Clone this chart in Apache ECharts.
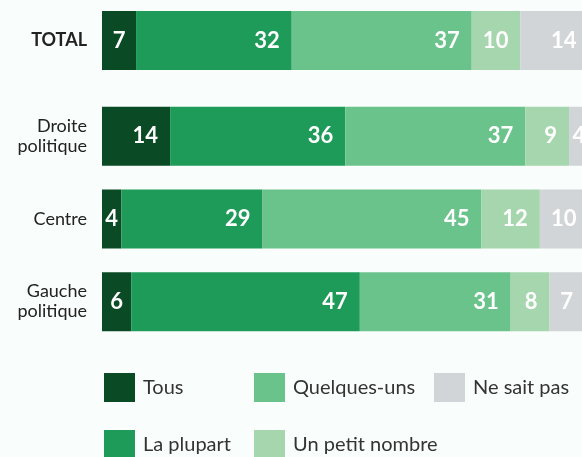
<!DOCTYPE html>
<html>
<head>
<meta charset="utf-8">
<script src="https://cdn.jsdelivr.net/npm/echarts@6/dist/echarts.min.js"></script>
<style>
  html, body { margin: 0; padding: 0; background: #f9fdfc; }
  #main { width: 582px; height: 457px; }
</style>
</head>
<body>
<div id="main"></div>
<script>
// données
const seriesNames = ['Tous', 'La plupart', 'Quelques-uns', 'Un petit nombre', 'Ne sait pas'];
const colors = ['#0a4a25', '#1e9b58', '#6bc38c', '#a6d6ad', '#d2d5d8'];

const totalLabel = ['TOTAL'];
const totalValues = [7, 32, 37, 10, 14];

const groups = ['Droite\npolitique', 'Centre', 'Gauche\npolitique'];
const tous = [14, 4, 6];
const laPlupart = [36, 29, 47];
const quelquesUns = [37, 45, 31];
const petitNombre = [9, 12, 8];
const neSaitPas = [4, 10, 7];

const groupValues = [tous, laPlupart, quelquesUns, petitNombre, neSaitPas];

// légende en colonnes (ordre colonne par colonne)
const legendSpots = [[104, 373], [104, 430], [254, 373], [254, 430], [434, 373]];

const chart = echarts.init(document.getElementById('main'));

// barres étroites : étiquette centrée
function toItems(values) {
    return values.map(v => v <= 7 ? { value: v, label: { position: 'inside' } } : v);
}

const barLabel = {
    show: true,
    position: 'insideRight',
    distance: 12,
    color: '#fff',
    fontFamily: 'Lato',
    fontWeight: 'bold',
    fontSize: 22
};

const series = [];
seriesNames.forEach((name, i) => {
    series.push({
        name: name,
        type: 'bar',
        stack: 'total',
        xAxisIndex: 0,
        yAxisIndex: 0,
        barWidth: 59,
        itemStyle: { color: colors[i] },
        label: barLabel,
        data: toItems([totalValues[i]])
    });
    series.push({
        name: name,
        type: 'bar',
        stack: 'groups',
        xAxisIndex: 1,
        yAxisIndex: 1,
        barWidth: 59,
        itemStyle: { color: colors[i] },
        label: barLabel,
        data: toItems(groupValues[i])
    });
});

const legends = seriesNames.map((name, i) => ({
    left: legendSpots[i][0],
    top: legendSpots[i][1],
    data: [name],
    itemWidth: 31,
    itemHeight: 29,
    padding: 0,
    icon: 'rect',
    selectedMode: false,
    textStyle: {
        fontFamily: 'Lato',
        fontSize: 20,
        color: '#333',
        padding: [2, 0, 0, 3]
    }
}));

const yLabel = {
    fontFamily: 'Lato',
    fontSize: 18,
    color: '#222',
    lineHeight: 20,
    margin: 15
};

const option = {
    backgroundColor: '#f9fdfc',
    animation: false,
    legend: legends,
    grid: [
        { left: 102, top: 0, width: 486.5, height: 81, outerBoundsMode: 'none' },
        { left: 102, top: 95, width: 486.5, height: 248, outerBoundsMode: 'none' }
    ],
    xAxis: [
        { type: 'value', gridIndex: 0, min: 0, max: 100, show: false },
        { type: 'value', gridIndex: 1, min: 0, max: 100, show: false }
    ],
    yAxis: [
        {
            type: 'category',
            gridIndex: 0,
            data: totalLabel,
            inverse: true,
            axisLine: { show: false },
            axisTick: { show: false },
            axisLabel: Object.assign({}, yLabel, { fontWeight: 'bold' })
        },
        {
            type: 'category',
            gridIndex: 1,
            data: groups,
            inverse: true,
            axisLine: { show: false },
            axisTick: { show: false },
            axisLabel: yLabel
        }
    ],
    series: series
};

chart.setOption(option);
</script>
</body>
</html>
